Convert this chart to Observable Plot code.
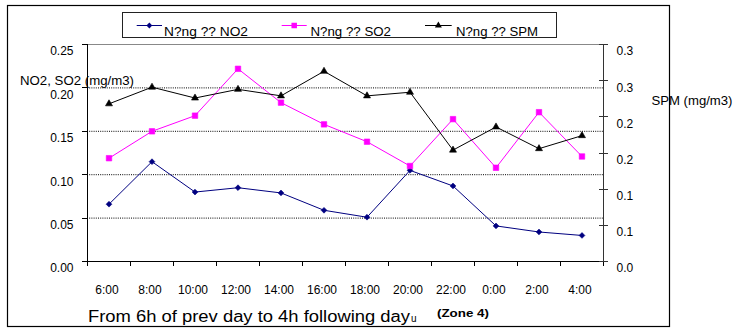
<!DOCTYPE html>
<html>
<head>
<meta charset="utf-8">
<script src="https://cdn.jsdelivr.net/npm/d3@7"></script>
<script src="https://cdn.jsdelivr.net/npm/@observablehq/plot@0.6"></script>
<style>
  html, body { margin: 0; padding: 0; background: #fff; }
  #wrap { position: relative; width: 734px; height: 329px; overflow: hidden; background: #fff; }
  #wrap svg { position: absolute; left: 0; top: 0; }
</style>
</head>
<body>
<div id="wrap"></div>
<script>
// ---- data ----
const hours = ["6:00","8:00","10:00","12:00","14:00","16:00","18:00","20:00","22:00","0:00","2:00","4:00"];
const no2 = [0.066, 0.115, 0.080, 0.085, 0.079, 0.059, 0.051, 0.105, 0.087, 0.041, 0.034, 0.030];
const so2 = [0.119, 0.150, 0.168, 0.222, 0.183, 0.158, 0.138, 0.110, 0.164, 0.108, 0.172, 0.121];
const spm = [0.218, 0.241, 0.226, 0.238, 0.229, 0.263, 0.229, 0.234, 0.154, 0.186, 0.156, 0.174];
const seriesNames = ["N?ng ?? NO2", "N?ng ?? SO2", "N?ng ?? SPM"];
const leftTicks = [0, 0.05, 0.10, 0.15, 0.20, 0.25];
const leftTickLabels = ["0.00", "0.05", "0.10", "0.15", "0.20", "0.25"];
const spmTicks = [0, 0.05, 0.10, 0.15, 0.20, 0.25, 0.30];
const spmTickLabels = ["0.0", "0.1", "0.1", "0.2", "0.2", "0.3", "0.3"];
const leftTitle = "NO2, SO2 (mg/m3)";
const rightTitle = "SPM (mg/m3)";
const bottomTitle = "From 6h of prev day to 4h following day";
const bottomSuffix = "u";
const zoneLabel = "(Zone 4)";

const colors = ["#000080", "#ff00ff", "#000000"];
const symbols = [d3.symbolDiamond2, d3.symbolSquare, d3.symbolTriangle];

// secondary axis (SPM 0..0.3) mapped onto primary axis (0..0.25)
const ratio = 0.25 / 0.30;

const rows = [];
hours.forEach((h, i) => {
  rows.push({h, s: seriesNames[0], v: no2[i]});
  rows.push({h, s: seriesNames[1], v: so2[i]});
  rows.push({h, s: seriesNames[2], v: spm[i] * ratio});
});

const FONT = "Liberation Sans, Arial, Helvetica, sans-serif";

function axes(index, scales, values, dims) {
  const g = d3.create("svg:g").attr("fill", "none");
  const x0 = dims.marginLeft, x1 = dims.width - dims.marginRight;
  const y0 = dims.marginTop, y1 = dims.height - dims.marginBottom;
  const px = v => Math.round(v) + 0.5;
  const bw = (x1 - x0) / hours.length;
  const bounds = hours.map(h => scales.x(h));
  bounds.push(bounds[bounds.length - 1] + bw);
  // x axis line and boundary ticks
  g.append("line").attr("x1", x0).attr("x2", x1).attr("y1", px(y1)).attr("y2", px(y1)).attr("stroke", "#000");
  bounds.forEach(b => g.append("line").attr("x1", px(b)).attr("x2", px(b)).attr("y1", y1).attr("y2", y1 + 5).attr("stroke", "#000"));
  // left axis
  g.append("line").attr("x1", px(x0)).attr("x2", px(x0)).attr("y1", y0).attr("y2", y1 + 1).attr("stroke", "#000");
  leftTicks.forEach(t => g.append("line").attr("x1", x0 - 5).attr("x2", x0).attr("y1", px(scales.y(t))).attr("y2", px(scales.y(t))).attr("stroke", "#000"));
  // right axis
  g.append("line").attr("x1", px(x1)).attr("x2", px(x1)).attr("y1", y0).attr("y2", y1 + 1).attr("stroke", "#333");
  spmTicks.forEach(t => g.append("line").attr("x1", x1 - 4).attr("x2", x1 + 5).attr("y1", px(scales.y(t * ratio))).attr("y2", px(scales.y(t * ratio))).attr("stroke", "#333"));
  return g.node();
}

const chart = Plot.plot({
  width: 734,
  height: 329,
  marginLeft: 87,
  marginRight: 131,
  marginTop: 44,
  marginBottom: 68,
  style: {fontFamily: FONT, fontSize: "12px", background: "none", overflow: "visible", color: "#000"},
  x: {type: "band", domain: hours, padding: 0, axis: null},
  y: {domain: [0, 0.25], axis: null},
  color: {domain: seriesNames, range: colors},
  marks: [
    Plot.ruleY(leftTicks.slice(1, -1), {stroke: "#000", strokeDasharray: "1,1.2", strokeWidth: 1}),
    Plot.ruleY(leftTicks.slice(-1), {stroke: "#888", strokeWidth: 1}),
    axes,
    Plot.line(rows, {x: "h", y: "v", z: "s", stroke: d => d.s, strokeWidth: 1}),
    ...seriesNames.map((name, k) =>
      Plot.dot(rows.filter(d => d.s === name), {
        x: "h", y: "v", symbol: symbols[k], r: [2.6, 3.1, 2.6][k],
        fill: colors[k], stroke: colors[k], strokeWidth: 0.6
      })),
    Plot.text(hours, {x: d => d, text: d => d, frameAnchor: "bottom", dy: 32, dx: -2, fontSize: 12, fill: "#000"}),
    Plot.text(leftTicks, {y: d => d, text: (d, i) => leftTickLabels[i], frameAnchor: "left", textAnchor: "end", dx: -14, dy: 7, fontSize: 12, fill: "#000"}),
    Plot.text(spmTicks, {y: d => d * ratio, text: (d, i) => spmTickLabels[i], frameAnchor: "right", textAnchor: "start", dx: 13, dy: 7, fontSize: 12, fill: "#000"})
  ]
});

const wrap = document.getElementById("wrap");
wrap.appendChild(chart);

// overlay: outer frame, legend, titles
const ov = d3.create("svg").attr("width", 734).attr("height", 329)
  .style("font-family", FONT).style("pointer-events", "none");
ov.append("rect").attr("x", 7.5).attr("y", 5.5).attr("width", 662).attr("height", 321)
  .attr("fill", "none").attr("stroke", "#000").attr("stroke-width", 1.2);

// legend
ov.append("rect").attr("x", 122.5).attr("y", 12.5).attr("width", 434).attr("height", 25)
  .attr("fill", "#fff").attr("stroke", "#222");
const legendLines = [[136.7, 162], [281.7, 306.7], [425, 451.7]];
const legendText = [[164, 84], [310.5, 80.5], [456, 82]];
seriesNames.forEach((name, k) => {
  const [a, b] = legendLines[k];
  ov.append("line").attr("x1", a).attr("x2", b).attr("y1", 25.5).attr("y2", 25.5)
    .attr("stroke", colors[k]).attr("stroke-width", 1);
  ov.append("path").attr("d", d3.symbol(symbols[k], Math.PI * Math.pow([2.6, 3.1, 2.6][k], 2))())
    .attr("transform", `translate(${(a + b) / 2},25.5)`).attr("fill", colors[k]);
  ov.append("text").attr("x", legendText[k][0]).attr("y", 36).attr("font-size", 12)
    .attr("textLength", legendText[k][1]).attr("lengthAdjust", "spacingAndGlyphs").text(name);
});

// axis titles
ov.append("text").attr("x", 20).attr("y", 84.5).attr("font-size", 12)
  .attr("textLength", 114).attr("lengthAdjust", "spacingAndGlyphs").text(leftTitle);
ov.append("text").attr("x", 651.5).attr("y", 105.3).attr("font-size", 12)
  .attr("textLength", 81).attr("lengthAdjust", "spacingAndGlyphs").text(rightTitle);

// bottom texts
ov.append("text").attr("x", 88).attr("y", 321.7).attr("font-size", 16)
  .attr("textLength", 322).attr("lengthAdjust", "spacingAndGlyphs").text(bottomTitle);
ov.append("text").attr("x", 411).attr("y", 321.7).attr("font-size", 10).text(bottomSuffix);
ov.append("text").attr("x", 437).attr("y", 317.3).attr("font-size", 10.5).attr("font-weight", "bold")
  .attr("textLength", 52).attr("lengthAdjust", "spacingAndGlyphs").text(zoneLabel);

wrap.appendChild(ov.node());
</script>
</body>
</html>
